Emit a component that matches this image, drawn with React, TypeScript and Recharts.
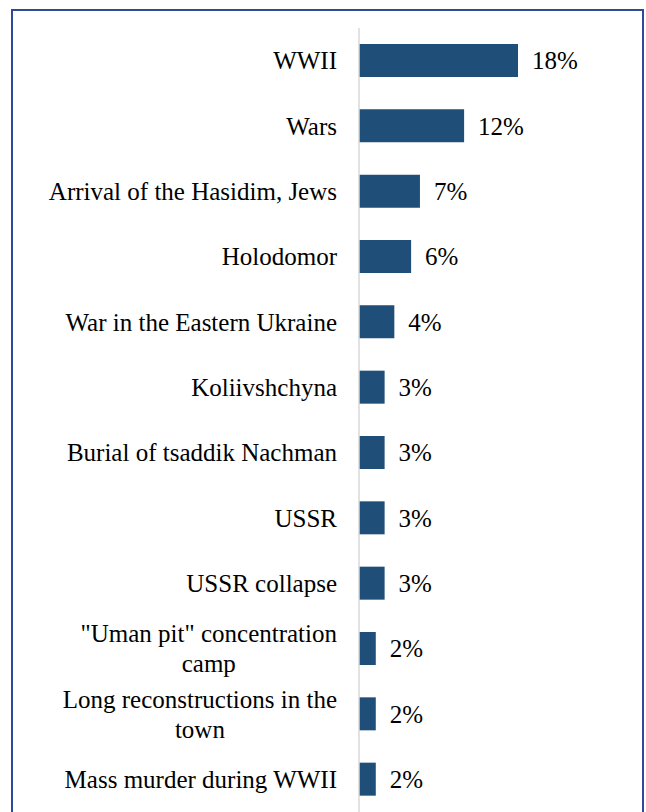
import React from 'react';
import { BarChart, Bar, XAxis, YAxis, LabelList } from 'recharts';

const categories = [
  'WWII',
  'Wars',
  'Arrival of the Hasidim, Jews',
  'Holodomor',
  'War in the Eastern Ukraine',
  'Koliivshchyna',
  'Burial of tsaddik Nachman',
  'USSR',
  'USSR collapse',
  '"Uman pit" concentration camp',
  'Long reconstructions in the town',
  'Mass murder during WWII',
];

// shares in %
const shares = [18, 11.9, 6.9, 5.9, 4, 2.9, 2.9, 2.9, 2.9, 1.9, 1.9, 1.9];

const data = categories.map((name, i) => ({ name, value: shares[i] }));

const FONT = 'Liberation Serif';
const FONT_SIZE = 25;
const MAX_LABEL_WIDTH = 296;

let ctx: CanvasRenderingContext2D | null = null;
function measure(text: string) {
  if (!ctx) ctx = document.createElement('canvas').getContext('2d');
  if (!ctx) return text.length * FONT_SIZE * 0.45;
  ctx.font = `${FONT_SIZE}px "${FONT}"`;
  return ctx.measureText(text).width;
}

function wrap(text: string) {
  const words = text.split(' ');
  const lines: string[] = [];
  let cur = '';
  words.forEach(w => {
    const next = cur ? cur + ' ' + w : w;
    if (cur && measure(next) > MAX_LABEL_WIDTH) {
      lines.push(cur);
      cur = w;
    } else {
      cur = next;
    }
  });
  if (cur) lines.push(cur);
  return lines;
}

// right-aligned block, lines centred inside it (like Excel)
const CategoryTick = (props: any) => {
  const { x, y, payload } = props;
  const lines = wrap(String(payload.value));
  const maxW = Math.max(...lines.map(measure));
  const cx = x - maxW / 2;
  const lineH = 30;
  const startY = y - ((lines.length - 1) * lineH) / 2;
  return (
    <g>
      {lines.map((l, i) => (
        <text
          key={i}
          x={lines.length > 1 ? cx : x}
          y={startY + i * lineH}
          dy="0.35em"
          textAnchor={lines.length > 1 ? 'middle' : 'end'}
          fontFamily={FONT}
          fontSize={FONT_SIZE}
          fill="#000"
        >
          {l}
        </text>
      ))}
    </g>
  );
};

export default function App() {
  return (
    <div style={{ position: 'absolute', left: 0, top: 0, width: 646, height: 812, overflow: 'hidden', background: '#fff' }}>
      <div
        style={{
          position: 'absolute',
          left: 11,
          top: 9,
          width: 633,
          height: 900,
          boxSizing: 'border-box',
          border: '2px solid #2f4a9a',
        }}
      />
      <div style={{ position: 'absolute', left: 0, top: 0 }}>
        <BarChart
          width={646}
          height={812}
          data={data}
          layout="vertical"
          margin={{ top: 28, right: 22, bottom: 0, left: 0 }}
        >
          <XAxis type="number" domain={[0, 30]} hide />
          <YAxis
            type="category"
            dataKey="name"
            width={359}
            axisLine={{ stroke: '#d9d9d9', strokeWidth: 1.5 }}
            tickLine={false}
            tickSize={0}
            tickMargin={22}
            interval={0}
            tick={<CategoryTick />}
          />
          <Bar dataKey="value" fill="#1f4e79" barSize={33} isAnimationActive={false}>
            <LabelList
              dataKey="value"
              position="right"
              offset={14}
              formatter={(v: any) => `${Math.round(Number(v))}%`}
              fontFamily={FONT}
              fontSize={FONT_SIZE}
              fill="#000"
            />
          </Bar>
        </BarChart>
      </div>
    </div>
  );
}
